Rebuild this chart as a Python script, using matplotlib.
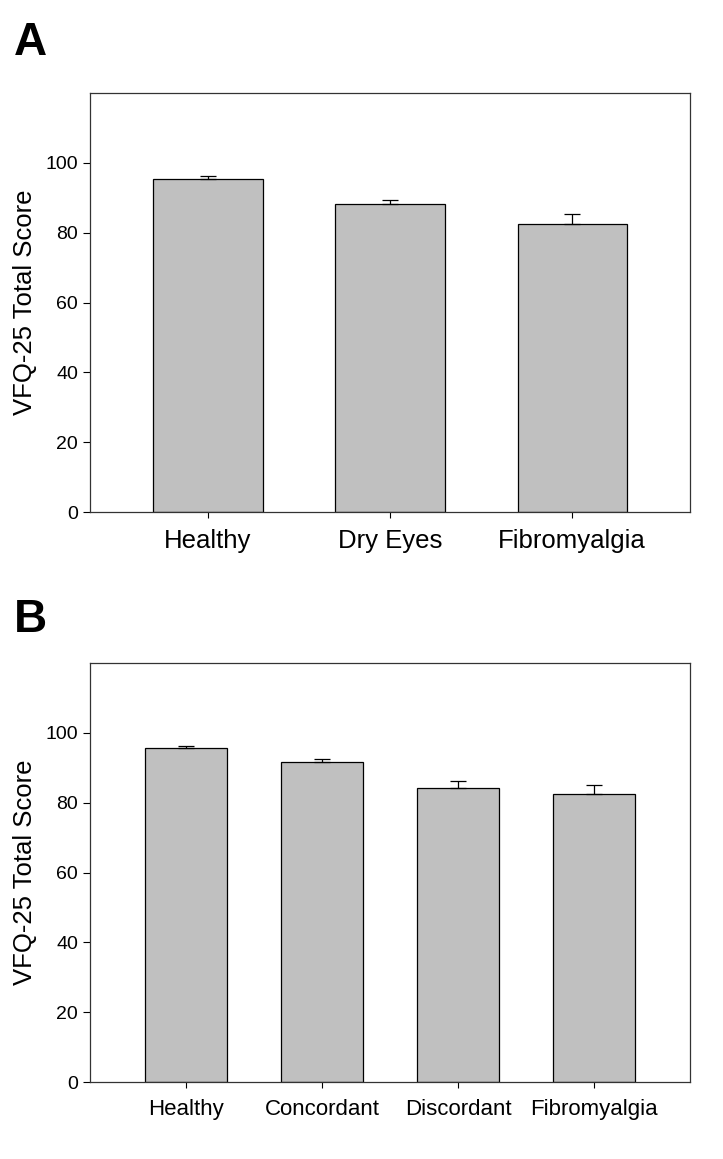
import numpy as np
import matplotlib
matplotlib.use("Agg")
import matplotlib.pyplot as plt

plt.rcParams['font.family'] = ['Liberation Sans', 'DejaVu Sans']

groups_a = ['Healthy', 'Dry Eyes', 'Fibromyalgia']
means_a = [95.4, 88.2, 82.5]
sem_a = [0.9, 1.1, 2.8]

groups_b = ['Healthy', 'Concordant', 'Discordant', 'Fibromyalgia']
means_b = [95.6, 91.7, 84.2, 82.5]
sem_b = [0.7, 0.9, 2.0, 2.7]

fig = plt.figure(figsize=(7.23, 11.59), dpi=100)
ax_a = fig.add_axes([0.1245, 0.5582, 0.830, 0.3615])
ax_b = fig.add_axes([0.1245, 0.0664, 0.830, 0.3615])


def draw(ax, groups, means, sem, xlim, xfs):
    x = np.arange(len(groups))
    ax.bar(x, means, width=0.6, color='#c0c0c0', edgecolor='black', linewidth=0.9, zorder=2)
    ax.errorbar(x, means, yerr=[np.zeros(len(sem)), sem], fmt='none', ecolor='black',
                elinewidth=0.9, capsize=6, capthick=0.9, zorder=3)
    ax.set_xlim(*xlim)
    ax.set_ylim(0, 120)
    ax.set_yticks([0, 20, 40, 60, 80, 100])
    ax.set_xticks(x)
    ax.set_xticklabels(groups, fontsize=xfs)
    ax.tick_params(axis='x', direction='out', length=4, width=0.8, pad=8)
    ax.tick_params(axis='y', direction='out', length=5, labelsize=14, width=0.8)
    ax.set_ylabel('VFQ-25 Total Score', fontsize=18.5, labelpad=6)
    for s in ax.spines.values():
        s.set_linewidth(0.9)
        s.set_color('#333333')


draw(ax_a, groups_a, means_a, sem_a, (-0.648, 2.648), 18.5)
draw(ax_b, groups_b, means_b, sem_b, (-0.706, 3.706), 16)

fig.text(0.019, 0.9525, 'A', fontsize=33, fontweight='bold', va='baseline')
fig.text(0.019, 0.4547, 'B', fontsize=33, fontweight='bold', va='baseline')

fig.savefig('out.png', dpi=100)
